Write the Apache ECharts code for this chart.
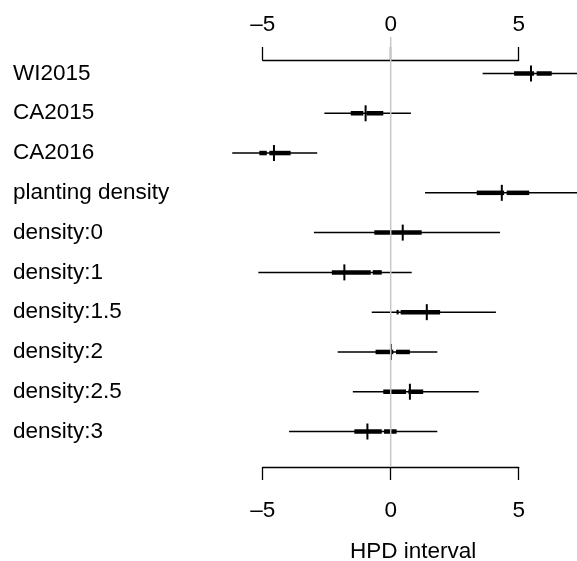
<!DOCTYPE html>
<html>
<head>
<meta charset="utf-8">
<script src="https://cdn.jsdelivr.net/npm/echarts@6/dist/echarts.min.js"></script>
<style>
  html, body { margin: 0; padding: 0; background: #fff; }
  #main { width: 577px; height: 561px; }
</style>
</head>
<body>
<div id="main"></div>
<script>
// rows, top to bottom
var labels = ['WI2015', 'CA2015', 'CA2016', 'planting density', 'density:0',
    'density:1', 'density:1.5', 'density:2', 'density:2.5', 'density:3'];
// outer (thin) interval
var thinLo = [3.59, -2.59, -6.19, 1.34, -3.00, -5.17, -0.74, -2.07, -1.48, -3.97];
var thinHi = [7.40, 0.79, -2.87, 7.40, 4.27, 0.82, 4.11, 1.82, 3.44, 1.82];
// inner (thick) interval, may be split in two pieces
var thickLo1 = [4.82, -1.56, -5.13, 3.36, -0.64, -2.30, 0.23, -0.59, -0.29, -1.42];
var thickHi1 = [5.60, -1.07, -4.84, 4.43, 1.21, -0.78, 0.31, 0.10, 0.60, -0.35];
var thickLo2 = [5.70, -0.94, -4.74, 4.53, null, -0.70, 0.39, 0.21, 0.69, -0.26];
var thickHi2 = [6.29, -0.29, -3.91, 5.41, null, -0.35, 1.93, 0.75, 1.27, 0.23];
// point estimate
var median = [5.48, -0.98, -4.56, 4.34, 0.47, -1.81, 1.41, 0.01, 0.75, -0.91];

var chart = echarts.init(document.getElementById('main'));

var thinData = labels.map(function (l, i) { return [i, thinLo[i], thinHi[i]]; });
var thickData = [];
labels.forEach(function (l, i) {
    thickData.push([i, thickLo1[i], thickHi1[i]]);
    if (thickLo2[i] != null) thickData.push([i, thickLo2[i], thickHi2[i]]);
});
var medData = labels.map(function (l, i) { return [i, median[i]]; });

function segment(width) {
    return function (params, api) {
        var a = api.coord([api.value(1), api.value(0)]);
        var b = api.coord([api.value(2), api.value(0)]);
        return {
            type: 'line',
            shape: { x1: a[0], y1: a[1], x2: b[0], y2: b[1] },
            style: { stroke: '#000', lineWidth: width, lineCap: 'butt' }
        };
    };
}

var axisFont = { fontFamily: 'Liberation Sans', fontSize: 22.5, color: '#000' };
function dash(v) { return String(v).replace('-', '\u2013'); }

var option = {
    animation: false,
    title: {
        text: 'HPD interval',
        left: 345,
        top: 535,
        textStyle: { fontFamily: 'Liberation Sans', fontSize: 22.5, fontWeight: 'normal', color: '#000' }
    },
    grid: [
        { left: 262.7, width: 256, top: 60, height: 407 },    // axes
        { left: 262.7, width: 256, top: 53.6, height: 397.8 }, // rows
        { left: 262.7, width: 256, top: 37, height: 430 }      // zero line
    ],
    xAxis: [
        {
            gridIndex: 0, type: 'value', position: 'top', min: -5, max: 5, interval: 5,
            axisLine: { show: true, onZero: false, lineStyle: { color: '#000', width: 1.3 } },
            axisTick: { show: true, length: 13, lineStyle: { color: '#000', width: 1.3 } },
            axisLabel: Object.assign({ margin: 24, formatter: dash }, axisFont),
            splitLine: { show: false }
        },
        {
            gridIndex: 0, type: 'value', position: 'bottom', min: -5, max: 5, interval: 5,
            axisLine: { show: true, onZero: false, lineStyle: { color: '#000', width: 1.3 } },
            axisTick: { show: true, length: 13, lineStyle: { color: '#000', width: 1.3 } },
            axisLabel: Object.assign({ margin: 32, formatter: dash }, axisFont),
            splitLine: { show: false }
        },
        { gridIndex: 1, type: 'value', min: -5, max: 5, show: false },
        { gridIndex: 2, type: 'value', min: -5, max: 5, show: false }
    ],
    yAxis: [
        { gridIndex: 0, type: 'value', min: 0, max: 1, show: false },
        {
            gridIndex: 1, type: 'category', data: labels, inverse: true,
            axisLine: { show: false }, axisTick: { show: false }, splitLine: { show: false },
            axisLabel: Object.assign({ align: 'left', margin: 249.7 }, axisFont)
        },
        { gridIndex: 2, type: 'value', min: 0, max: 1, show: false }
    ],
    series: [
        {
            type: 'custom', xAxisIndex: 2, yAxisIndex: 1, clip: false,
            renderItem: segment(1.5), data: thinData
        },
        {
            type: 'custom', xAxisIndex: 2, yAxisIndex: 1, clip: false,
            renderItem: segment(4.5), data: thickData
        },
        {
            type: 'custom', xAxisIndex: 2, yAxisIndex: 1, clip: false,
            renderItem: function (params, api) {
                var p = api.coord([api.value(1), api.value(0)]);
                return {
                    type: 'line',
                    shape: { x1: p[0], y1: p[1] - 8, x2: p[0], y2: p[1] + 8 },
                    style: { stroke: '#000', lineWidth: 2 }
                };
            },
            data: medData
        },
        {
            type: 'line', xAxisIndex: 3, yAxisIndex: 2, z: 10,
            symbol: 'none', silent: true,
            lineStyle: { color: '#c8c8c8', width: 1.5 },
            data: [[0, 0], [0, 1]]
        },
        { type: 'line', xAxisIndex: 0, yAxisIndex: 0, data: [] },
        { type: 'line', xAxisIndex: 1, yAxisIndex: 0, data: [] }
    ]
};

chart.setOption(option);
</script>
</body>
</html>
